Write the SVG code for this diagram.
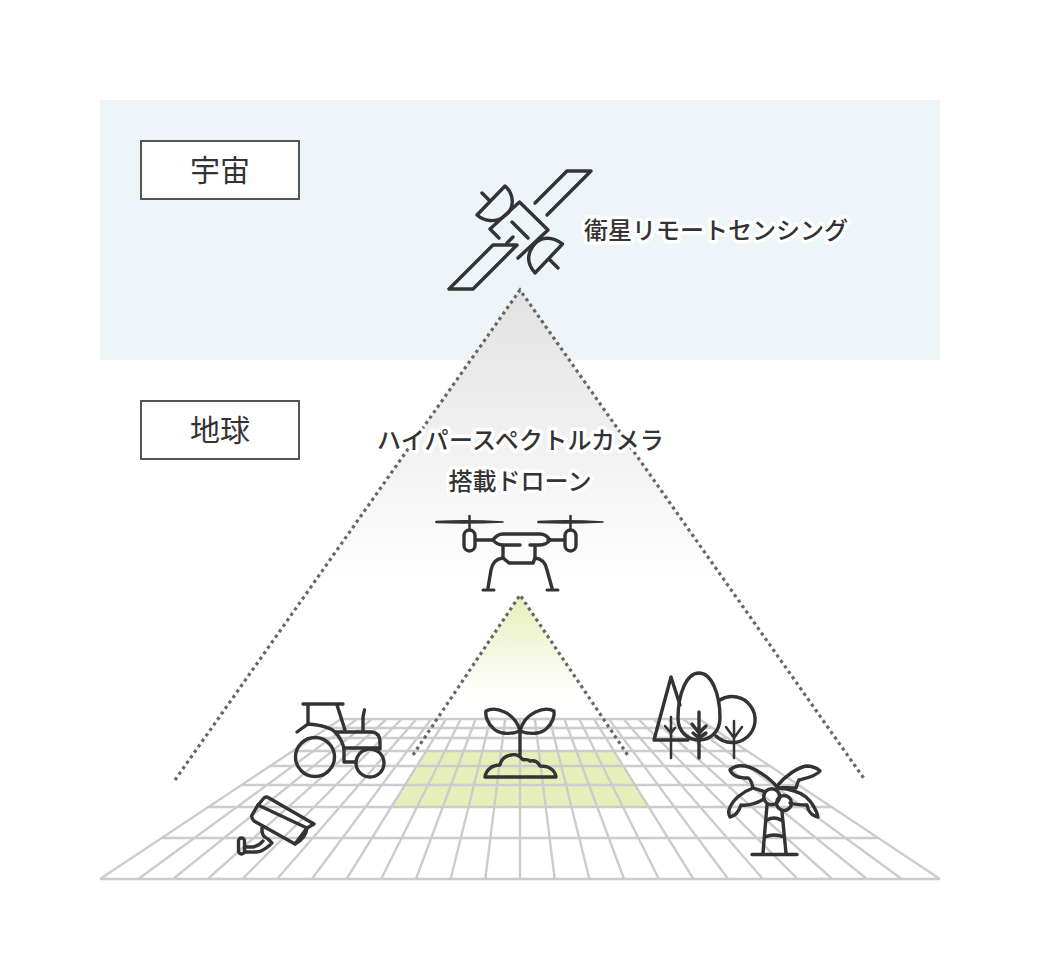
<svg xmlns="http://www.w3.org/2000/svg" width="1040" height="980" viewBox="0 0 1040 980">
<style>
.ic{fill:none;stroke:#333;stroke-width:3.4;stroke-linecap:round;stroke-linejoin:round}
.dot{stroke:#666;stroke-width:3.2;stroke-dasharray:3.2 3.5;fill:none}
.lb{font-family:"Noto Sans CJK JP","Noto Sans",sans-serif;font-size:24px;font-weight:500;fill:#333;text-anchor:middle;paint-order:stroke;stroke:#fff;stroke-width:7px;stroke-linejoin:round}
.bx{fill:#fff;stroke:#555;stroke-width:2}
.bt{font-family:"Noto Sans CJK JP","Noto Sans",sans-serif;font-size:30px;fill:#333;text-anchor:middle}
</style>
<defs>
<linearGradient id="g1" gradientUnits="userSpaceOnUse" x1="0" y1="290" x2="0" y2="585"><stop offset="0" stop-color="#e2e2e2"/><stop offset="1" stop-color="#fff"/></linearGradient>
<linearGradient id="g2" gradientUnits="userSpaceOnUse" x1="0" y1="595" x2="0" y2="695"><stop offset="0" stop-color="#e6efb9"/><stop offset="1" stop-color="#fff"/></linearGradient>
</defs>
<rect x="100" y="100" width="840" height="260" fill="#edf5f8"/>
<g id="cones-fill">
<path d="M520 290L865 780H175Z" fill="url(#g1)"/>
<path d="M520 595L629 757H413Z" fill="url(#g2)"/>
</g>
<g id="grid">
<path d="M426 751H614L649 807H391Z" fill="#e6efb9"/>
<path fill="none" stroke="#ccc" stroke-width="2.4" d="M341 719H699M327.3 728H712.7M312.3 738H727.7M292.7 751H747.3M270.1 766H769.9M241.5 785H798.5M208.4 807H831.6M161.7 838H878.3M100 879H940
M341 719L100 879M357.2 719L138.3 879M372 719L173 879M386.8 719L207.7 879M401.6 719L242.4 879M416.4 719L277.1 879M431.2 719L311.8 879M446 719L346.5 879M460.8 719L381.2 879M475.6 719L415.9 879M490.4 719L450.6 879M505.2 719L485.3 879M520 719V879
M534.8 719L554.7 879M549.6 719L589.4 879M564.4 719L624.1 879M579.2 719L658.8 879M594 719L693.5 879M608.8 719L728.2 879M623.6 719L762.9 879M638.4 719L797.6 879M653.2 719L832.3 879M668 719L867 879M682.8 719L901.7 879M699 719L940 879"/>
</g>
<g id="connectors">
<path class="dot" d="M175 780L520 290L865 780"/>
<path class="dot" d="M413 755L520 595L629 757"/>
</g>
<g id="space-label"><rect class="bx" x="141" y="141" width="158" height="58"/><text class="bt" x="220" y="181">宇宙</text></g>
<g id="earth-label"><rect class="bx" x="141" y="401" width="158" height="58"/><text class="bt" x="220" y="441">地球</text></g>
<g id="satellite" class="ic">
<path d="M535 203L567 171H591L547 215"/>
<path d="M517 245H493L449 289H473Z"/>
<path d="M490 229L519.500 202L548 230L518 258M490 229L499 238M513 237L507 243M512 222L528 238"/>
<path d="M505 186C515 195 515 210 503 217C495 223 484 221 477 215ZM482 193L490 201"/>
<path d="M562.500 244C552 236 540 236 533 246C526 256 528 265 535 273ZM549 259L558 268"/>
</g>
<g id="satellite-text"><text class="lb" x="716" y="239">衛星リモートセンシング</text></g>
<g id="drone-text"><text class="lb" x="520.500" y="449" letter-spacing="0.3">ハイパースペクトルカメラ</text><text class="lb" x="520" y="490">搭載ドローン</text></g>
<g id="drone" class="ic">
<path d="M436 521.500Q470 520 503 522Q470 523.500 436 522.500Z" fill="#333" stroke-width="1.500"/>
<path d="M538 521.500Q570 520 603 522Q570 523.500 538 522.500Z" fill="#333" stroke-width="1.500"/>
<path d="M469.500 516V530M570.500 516V530" stroke-width="2.500"/>
<rect x="464" y="530" width="11" height="21" rx="5.500"/><rect x="565" y="530" width="11" height="21" rx="5.500"/>
<path d="M476 540H493M548 540H564"/>
<path d="M520 545H503Q497 545 493 540Q497 534 503 534H540Q546 534 550 540Q546 545 540 545H530"/>
<path d="M503 546V558L509 563H533L535 558V546"/>
<path d="M503 558Q493 559 491 570L488 588M535 558Q545 559 547 570L552 588"/>
<path d="M483 590H494M547 590H558" stroke-width="3"/>
</g>
<g id="tractor" class="ic">
<path d="M303 704H343M308 704V723M337 705L345 730"/>
<path d="M297 732L308 724C320 725 330 727 335 732C340 737 344 745 344 750V762H355"/>
<path d="M335 732H372Q380 733 380 742V749M344 748H380" />
<path d="M363 731V717L364.500 710" />
<circle cx="315" cy="757" r="19.500"/><circle cx="370" cy="763" r="14"/>
</g>
<g id="trees" class="ic">
<path d="M680 705L671 677L654 740H688"/>
<path d="M699 673C686 673 678 695 678 718C678 732 688 740 699 740C710 740 720 732 720 718C720 695 712 673 699 673Z"/>
<path d="M720 700A23 23 0 1 1 716 736"/>
<path d="M671 717V758M665 726L671 733L675 728" stroke-width="2.500"/>
<path d="M699 712V758M692 724L699 733L706 726M693 733L699 738L706 733"/>
<path d="M734 721V758M726 727L734 738L742 727" stroke-width="2.500"/>
</g>
<g id="palm" class="ic">
<circle cx="771.700" cy="796.700" r="8"/><circle cx="784" cy="803" r="7.500"/>
<path d="M777 787C770 778 755 768 745 766C738 765 733 767 730 770C733 777 740 778 748 778C752 780 752 785 753 788C758 790 762 790 765 792"/>
<path d="M777 786C785 776 797 768 806 766C813 766 817 768 820 771C815 777 806 778 799 780C797 783 797 786 796 788C788 788 782 787 778 788"/>
<path d="M753 788C742 792 732 800 729 810C728 813 729 815 730 817C735 816 739 811 741 805C748 806 758 803 764 799"/>
<path d="M778 788C790 789 800 792 806 797C813 803 817 812 818 817C812 816 808 811 807 805C802 805 796 805 790 803"/>
<path d="M767 805L763 853M782 812L786 853M767 820Q774 816 781 820M765 837Q774 833 784 837M752 854.500H797"/>
</g>
<g id="camera" class="ic">
<path d="M258 805L264 798Q266 796 269 798L314 824L307 828L295 844L254 821Q251 818 252 815Z"/>
<path d="M258 805L307 828"/>
<path d="M307 828Q306 838 295 844"/>
<path d="M262 828Q261 836 268 839L272 843"/>
<path d="M245 847H253Q259 846 263 841M245 852H256Q262 852 270 845"/>
<rect x="238.500" y="838" width="6" height="16" rx="3"/>
</g>
<g id="seedling" class="ic">
<path d="M486 711C495 706 515 712 520 731C510 735 498 734 493 728C488 724 485 716 486 711Z"/>
<path d="M554 711C545 706 525 712 520 731C530 735 542 734 547 728C552 724 555 716 554 711Z"/>
<path d="M520 730V755"/>
<path d="M485 777H556C555 770 549 766 540 766C538 762 535 760 530 761C527 758 525 761 522 759C519 755 515 754 511 755C505 756 501 760 500 765C492 765 486 770 485 777Z"/>
</g>
</svg>
